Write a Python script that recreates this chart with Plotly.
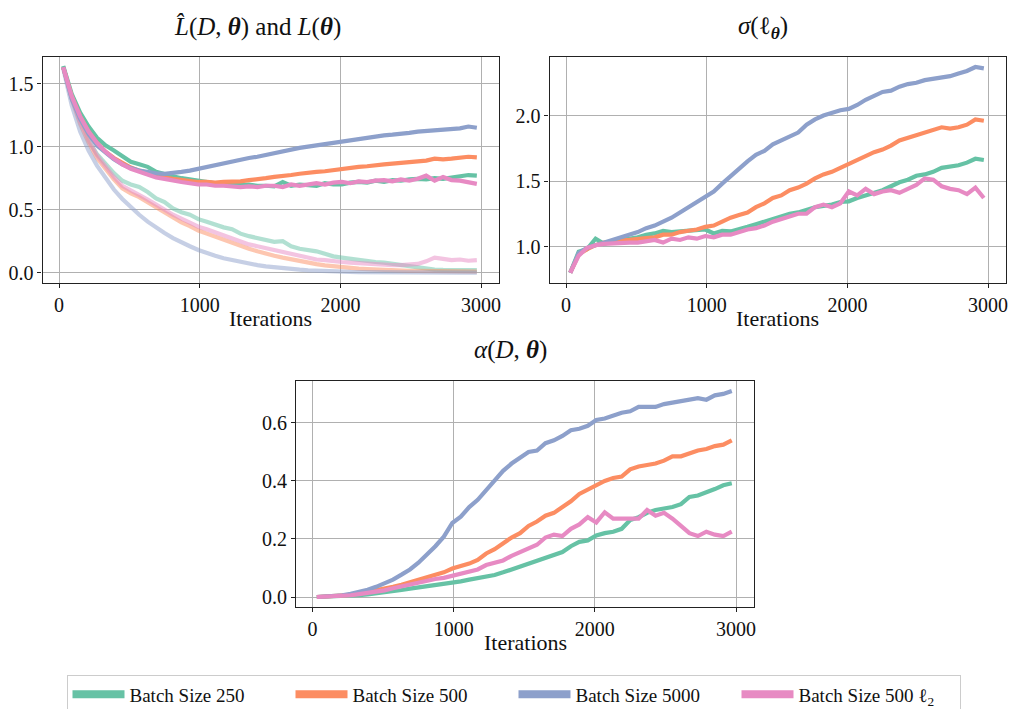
import plotly.graph_objects as go

# ---------------- data ----------------
iters = [30, 90, 150, 210, 270, 330, 390, 450, 510, 570, 630, 690, 750, 810, 870, 930, 990,
         1050, 1110, 1170, 1230, 1290, 1350, 1410, 1470, 1530, 1590, 1650, 1710, 1770, 1830,
         1890, 1950, 2010, 2070, 2130, 2190, 2250, 2310, 2370, 2430, 2490, 2550, 2610, 2670,
         2730, 2790, 2850, 2910, 2970]

series_names = ["Batch Size 250", "Batch Size 500", "Batch Size 5000", "Batch Size 500 ℓ<sub>2</sub>"]
colors = ["#66c2a5", "#fc8d62", "#8da0cb", "#e78ac3"]
light_colors = ["rgba(102,194,165,0.5)", "rgba(252,141,98,0.5)", "rgba(141,160,203,0.5)", "rgba(231,138,195,0.5)"]

# Population loss L(theta) (dark)
loss_pop_250 = [1.64, 1.42, 1.27, 1.16, 1.07, 1.01, 0.97, 0.92, 0.88, 0.86, 0.84, 0.80, 0.78, 0.765, 0.75,
                0.74, 0.725, 0.715, 0.705, 0.70, 0.705, 0.695, 0.70, 0.69, 0.69, 0.685, 0.72, 0.69, 0.70,
                0.695, 0.69, 0.71, 0.70, 0.70, 0.715, 0.72, 0.715, 0.73, 0.72, 0.735, 0.73, 0.74, 0.745,
                0.74, 0.75, 0.745, 0.755, 0.76, 0.775, 0.77]
loss_pop_500 = [1.63, 1.40, 1.24, 1.12, 1.03, 0.96, 0.91, 0.87, 0.835, 0.81, 0.79, 0.77, 0.755, 0.745, 0.735,
                0.73, 0.72, 0.72, 0.715, 0.72, 0.72, 0.725, 0.735, 0.74, 0.75, 0.76, 0.765, 0.775, 0.785,
                0.795, 0.80, 0.805, 0.815, 0.82, 0.83, 0.84, 0.845, 0.855, 0.86, 0.865, 0.87, 0.875, 0.885,
                0.89, 0.905, 0.90, 0.905, 0.91, 0.92, 0.915]
loss_pop_5000 = [1.63, 1.38, 1.22, 1.10, 1.01, 0.95, 0.90, 0.86, 0.83, 0.81, 0.795, 0.788, 0.785, 0.79, 0.80,
                 0.81, 0.825, 0.84, 0.855, 0.865, 0.88, 0.895, 0.91, 0.92, 0.935, 0.95, 0.96, 0.975, 0.99,
                 1.0, 1.01, 1.02, 1.03, 1.04, 1.05, 1.065, 1.075, 1.085, 1.09, 1.095, 1.10, 1.11, 1.12,
                 1.125, 1.13, 1.135, 1.14, 1.145, 1.16, 1.15]
loss_pop_500l2 = [1.63, 1.40, 1.24, 1.12, 1.03, 0.96, 0.905, 0.86, 0.825, 0.80, 0.78, 0.755, 0.745, 0.73, 0.72,
                  0.71, 0.70, 0.70, 0.69, 0.69, 0.685, 0.68, 0.685, 0.68, 0.69, 0.69, 0.68, 0.70, 0.69,
                  0.70, 0.71, 0.70, 0.715, 0.72, 0.71, 0.725, 0.72, 0.73, 0.735, 0.725, 0.74, 0.73, 0.745,
                  0.77, 0.73, 0.76, 0.735, 0.73, 0.72, 0.705]

# Empirical loss L_hat(D, theta) (light)
loss_emp_250 = [1.63, 1.40, 1.22, 1.05, 0.94, 0.86, 0.79, 0.73, 0.70, 0.68, 0.64, 0.59, 0.56, 0.51, 0.48,
                0.46, 0.425, 0.405, 0.38, 0.36, 0.345, 0.31, 0.29, 0.275, 0.26, 0.245, 0.25, 0.21, 0.19,
                0.18, 0.17, 0.15, 0.13, 0.12, 0.11, 0.10, 0.09, 0.085, 0.08, 0.07, 0.065, 0.05, 0.04,
                0.03, 0.025, 0.022, 0.02, 0.02, 0.02, 0.02]
loss_emp_500 = [1.63, 1.38, 1.18, 1.03, 0.91, 0.82, 0.74, 0.67, 0.63, 0.60, 0.56, 0.52, 0.48, 0.44, 0.40,
                0.37, 0.335, 0.31, 0.285, 0.26, 0.235, 0.21, 0.19, 0.17, 0.15, 0.135, 0.12, 0.105, 0.09,
                0.078, 0.068, 0.058, 0.05, 0.043, 0.037, 0.032, 0.028, 0.024, 0.021, 0.019, 0.017, 0.015,
                0.014, 0.013, 0.012, 0.011, 0.01, 0.01, 0.009, 0.009]
loss_emp_5000 = [1.62, 1.33, 1.12, 0.97, 0.85, 0.75, 0.66, 0.585, 0.52, 0.46, 0.405, 0.355, 0.315, 0.275, 0.24,
                 0.21, 0.18, 0.155, 0.135, 0.115, 0.10, 0.085, 0.072, 0.06, 0.05, 0.042, 0.035, 0.029, 0.024,
                 0.019, 0.015, 0.012, 0.01, 0.008, 0.006, 0.005, 0.004, 0.003, 0.003, 0.002, 0.002, 0.002,
                 0.001, 0.001, 0.001, 0.001, 0.001, 0.001, 0.001, 0.001]
loss_emp_500l2 = [1.63, 1.39, 1.20, 1.05, 0.93, 0.84, 0.76, 0.69, 0.655, 0.62, 0.58, 0.54, 0.50, 0.46, 0.43,
                  0.40, 0.365, 0.345, 0.32, 0.295, 0.27, 0.245, 0.225, 0.21, 0.195, 0.18, 0.16, 0.15, 0.13,
                  0.115, 0.105, 0.10, 0.09, 0.085, 0.08, 0.075, 0.07, 0.07, 0.065, 0.06, 0.06, 0.065, 0.07,
                  0.09, 0.12, 0.11, 0.10, 0.105, 0.095, 0.10]

# sigma(l_theta)
sigma_250 = [0.80, 0.96, 0.98, 1.06, 1.02, 1.04, 1.05, 1.06, 1.07, 1.09, 1.10, 1.12, 1.11, 1.115, 1.12,
             1.13, 1.13, 1.10, 1.12, 1.115, 1.13, 1.15, 1.17, 1.19, 1.21, 1.23, 1.25, 1.26, 1.28, 1.30,
             1.31, 1.32, 1.34, 1.345, 1.37, 1.39, 1.41, 1.43, 1.46, 1.49, 1.51, 1.54, 1.55, 1.57, 1.60,
             1.61, 1.62, 1.64, 1.67, 1.66]
sigma_500 = [0.80, 0.94, 0.98, 1.01, 1.03, 1.04, 1.045, 1.05, 1.06, 1.065, 1.07, 1.09, 1.09, 1.11, 1.12,
             1.13, 1.15, 1.16, 1.19, 1.22, 1.24, 1.26, 1.30, 1.33, 1.37, 1.39, 1.43, 1.45, 1.48, 1.52,
             1.55, 1.57, 1.60, 1.63, 1.66, 1.69, 1.72, 1.74, 1.77, 1.81, 1.83, 1.85, 1.87, 1.89, 1.91,
             1.90, 1.91, 1.93, 1.97, 1.96]
sigma_5000 = [0.80, 0.95, 0.99, 1.01, 1.03, 1.05, 1.07, 1.09, 1.11, 1.14, 1.16, 1.19, 1.22, 1.26, 1.30,
              1.34, 1.38, 1.42, 1.48, 1.54, 1.60, 1.65, 1.70, 1.73, 1.78, 1.81, 1.84, 1.87, 1.93, 1.97,
              2.00, 2.02, 2.04, 2.05, 2.08, 2.12, 2.15, 2.18, 2.19, 2.22, 2.24, 2.25, 2.27, 2.28, 2.29,
              2.30, 2.32, 2.34, 2.37, 2.36]
sigma_500l2 = [0.80, 0.93, 0.99, 1.01, 1.02, 1.025, 1.03, 1.03, 1.03, 1.04, 1.05, 1.03, 1.06, 1.05, 1.07,
               1.06, 1.08, 1.07, 1.09, 1.09, 1.11, 1.13, 1.14, 1.16, 1.19, 1.21, 1.23, 1.25, 1.25, 1.30,
               1.32, 1.30, 1.33, 1.42, 1.39, 1.44, 1.40, 1.42, 1.43, 1.41, 1.44, 1.47, 1.52, 1.51, 1.46,
               1.44, 1.43, 1.40, 1.45, 1.37]

# alpha(D, theta)
alpha_250 = [0.0, 0.0005, 0.001, 0.002, 0.004, 0.006, 0.009, 0.012, 0.015, 0.019, 0.024, 0.029, 0.033,
             0.037, 0.04, 0.045, 0.05, 0.054, 0.06, 0.065, 0.07, 0.076, 0.085, 0.095, 0.105, 0.113, 0.123,
             0.135, 0.145, 0.155, 0.175, 0.19, 0.195, 0.212, 0.22, 0.225, 0.235, 0.265, 0.275, 0.29, 0.30,
             0.305, 0.31, 0.32, 0.345, 0.35, 0.36, 0.372, 0.385, 0.392]
alpha_500 = [0.0, 0.001, 0.002, 0.004, 0.007, 0.012, 0.017, 0.022, 0.028, 0.035, 0.042, 0.05, 0.058, 0.066,
             0.075, 0.085, 0.098, 0.105, 0.115, 0.128, 0.15, 0.165, 0.185, 0.205, 0.22, 0.245, 0.26, 0.28,
             0.29, 0.31, 0.33, 0.355, 0.37, 0.385, 0.40, 0.41, 0.415, 0.44, 0.45, 0.455, 0.46, 0.47, 0.485,
             0.485, 0.495, 0.505, 0.51, 0.52, 0.525, 0.54]
alpha_5000 = [0.0, 0.001, 0.003, 0.006, 0.011, 0.017, 0.025, 0.035, 0.047, 0.06, 0.077, 0.095, 0.118, 0.145,
              0.175, 0.208, 0.255, 0.277, 0.31, 0.335, 0.37, 0.405, 0.435, 0.46, 0.48, 0.50, 0.505, 0.53,
              0.54, 0.555, 0.575, 0.58, 0.59, 0.61, 0.615, 0.625, 0.635, 0.64, 0.655, 0.655, 0.655, 0.665,
              0.67, 0.675, 0.68, 0.685, 0.68, 0.695, 0.70, 0.71]
alpha_500l2 = [0.0, 0.001, 0.002, 0.003, 0.006, 0.01, 0.014, 0.018, 0.023, 0.03, 0.037, 0.043, 0.05, 0.056,
               0.062, 0.066, 0.073, 0.08, 0.088, 0.095, 0.11, 0.118, 0.126, 0.142, 0.155, 0.165, 0.18, 0.205,
               0.215, 0.21, 0.235, 0.25, 0.275, 0.257, 0.292, 0.27, 0.27, 0.27, 0.27, 0.30, 0.28, 0.29, 0.27,
               0.245, 0.22, 0.21, 0.225, 0.215, 0.21, 0.225]

loss_pop = [loss_pop_250, loss_pop_500, loss_pop_5000, loss_pop_500l2]
loss_emp = [loss_emp_250, loss_emp_500, loss_emp_5000, loss_emp_500l2]
sigma = [sigma_250, sigma_500, sigma_5000, sigma_500l2]
alpha = [alpha_250, alpha_500, alpha_5000, alpha_500l2]

x_ticks = [0, 1000, 2000, 3000]
loss_ticks = [0.0, 0.5, 1.0, 1.5]
sigma_ticks = [1.0, 1.5, 2.0]
alpha_ticks = [0.0, 0.2, 0.4, 0.6]

# ---------------- figure ----------------
W, H = 1013, 709
FONT = "Liberation Serif"
LW = 4.2

fig = go.Figure()

def add(xa, ya, ys, col, name):
    fig.add_trace(go.Scatter(x=iters, y=ys, mode="lines", xaxis=xa, yaxis=ya,
                             line=dict(color=col, width=LW), showlegend=False, name=name,
                             hoverinfo="skip"))

for i in range(4):
    add("x", "y", loss_emp[i], light_colors[i], series_names[i])
for i in range(4):
    add("x", "y", loss_pop[i], colors[i], series_names[i])
for i in range(4):
    add("x2", "y2", sigma[i], colors[i], series_names[i])
for i in range(4):
    add("x3", "y3", alpha[i], colors[i], series_names[i])

# legend entries
for i in range(4):
    fig.add_trace(go.Scatter(x=[None], y=[None], mode="lines", xaxis="x", yaxis="y",
                             line=dict(color=colors[i], width=8), name=series_names[i],
                             showlegend=True))

def px_x(p):
    return p / W

def px_y(p):
    return 1 - p / H

def xaxis(dom):
    return dict(domain=dom, range=[-117.5, 3127.5], tickvals=x_ticks,
                ticktext=[str(v) for v in x_ticks], showgrid=True, gridcolor="#b0b0b0",
                gridwidth=1, zeroline=False, showline=True, mirror=True, linecolor="#222",
                linewidth=1.2, ticks="outside", ticklen=4, tickcolor="#222",
                tickfont=dict(family=FONT, size=20, color="#111"))

def yaxis(dom, rng, tv):
    return dict(domain=dom, range=rng, tickvals=tv, ticktext=[f"{v:.1f}" for v in tv],
                showgrid=True, gridcolor="#b0b0b0", gridwidth=1, zeroline=False, showline=True,
                mirror=True, linecolor="#222", linewidth=1.2, ticks="outside", ticklen=4,
                tickcolor="#222", tickfont=dict(family=FONT, size=20, color="#111"))

top_dom = [px_y(283), px_y(57)]
bot_dom = [px_y(607.3), px_y(380.7)]

fig.update_layout(
    width=W, height=H, margin=dict(l=0, r=0, t=0, b=0, autoexpand=False),
    paper_bgcolor="white", plot_bgcolor="white",
    font=dict(family=FONT, size=20, color="#111"),
    xaxis=xaxis([px_x(42.5), px_x(499)]),
    yaxis=yaxis(top_dom, [-0.0815, 1.7115], loss_ticks),
    xaxis2=dict(xaxis([px_x(549.5), px_x(1006)]), anchor="y2"),
    yaxis2=dict(yaxis(top_dom, [0.7215, 2.4465], sigma_ticks), anchor="x2"),
    xaxis3=dict(xaxis([px_x(296), px_x(754)]), anchor="y3"),
    yaxis3=dict(yaxis(bot_dom, [-0.0355, 0.7455], alpha_ticks), anchor="x3"),
    legend=dict(orientation="h", x=px_x(66.5), xanchor="left", y=px_y(674.5), yanchor="top",
                bgcolor="white", bordercolor="#cccccc", borderwidth=1,
                font=dict(family=FONT, size=19, color="#111"),
                itemwidth=52, entrywidth=156, entrywidthmode="pixels", tracegroupgap=0),
    showlegend=True,
)

titles = [
    ("<i>L\u0302</i>(<i>D</i>, <b><i>θ</i></b>) and <i>L</i>(<b><i>θ</i></b>)", 257, 27),
    ("<i>σ</i>(ℓ<sub><b><i>θ</i></b></sub>)", 763, 27),
    ("<i>α</i>(<i>D</i>, <b><i>θ</i></b>)", 511, 350),
]
for text, cx, cy in titles:
    fig.add_annotation(text=text, x=px_x(cx), y=px_y(cy), xref="paper", yref="paper",
                       xanchor="center", yanchor="middle", showarrow=False,
                       font=dict(family=FONT, size=25, color="#111"))

for cx, cy in [(270.7, 318), (777.7, 318), (525, 642)]:
    fig.add_annotation(text="Iterations", x=px_x(cx), y=px_y(cy), xref="paper", yref="paper",
                       xanchor="center", yanchor="middle", showarrow=False,
                       font=dict(family=FONT, size=22, color="#111"))

fig.write_html("out.html", config={"displayModeBar": False},
               post_script="document.body.style.margin='0';")
